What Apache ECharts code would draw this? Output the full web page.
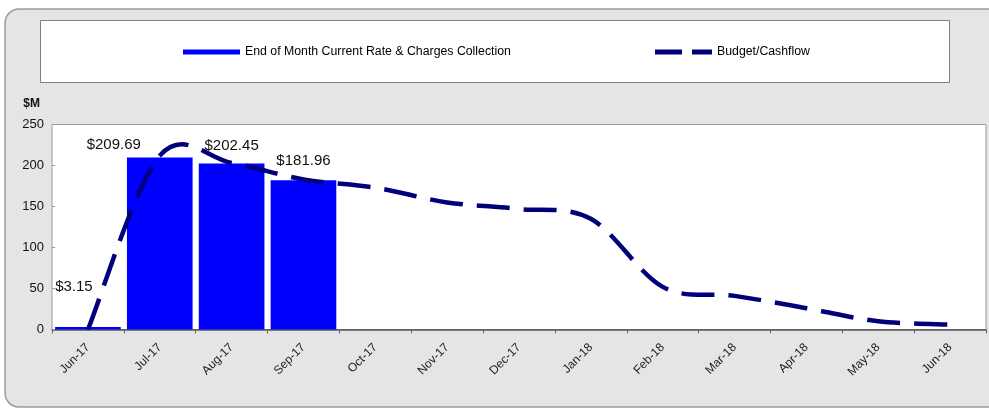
<!DOCTYPE html>
<html>
<head>
<meta charset="utf-8">
<script src="https://cdn.jsdelivr.net/npm/echarts@6/dist/echarts.min.js"></script>
<style>
  html, body { margin: 0; padding: 0; background: #ffffff; }
  #chart { width: 989px; height: 410px; }
</style>
</head>
<body>
<div id="chart"></div>
<script>
// Monthly categories, Jun-17 through Jun-18
const months = ['Jun-17', 'Jul-17', 'Aug-17', 'Sep-17', 'Oct-17', 'Nov-17', 'Dec-17',
                'Jan-18', 'Feb-18', 'Mar-18', 'Apr-18', 'May-18', 'Jun-18'];

// Actual end-of-month collections ($M), reported so far
const collections = [3.15, 209.69, 202.45, 181.96];

// Budget / cashflow profile ($M)
const budget = [0, 212, 203, 183, 173, 155, 147, 135, 52, 41, 26, 10, 6];

// Value-axis ticks
const yTicks = [0, 50, 100, 150, 200, 250];

const seriesNames = ['End of Month Current Rate & Charges Collection', 'Budget/Cashflow'];

// Hand-placed value labels, one per bar
const labelOffsets = [[-14, -28], [-46, 0], [0, -5], [0, -7]];

const font = '"Liberation Sans", Arial, sans-serif';
const budgetColor = '#00007a';

// Smooth curve through every budget point (Catmull-Rom converted to cubic Béziers),
// drawn as one path so the dash pattern runs continuously.
function renderBudget(params, api) {
  if (params.dataIndex !== 0) return null;
  const pts = budget.map((v, j) => api.coord([j, v]));
  const n = pts.length;
  let d = 'M' + pts[0][0] + ' ' + pts[0][1];
  for (let i = 0; i < n - 1; i++) {
    const p0 = pts[Math.max(i - 1, 0)];
    const p1 = pts[i];
    const p2 = pts[i + 1];
    const p3 = pts[Math.min(i + 2, n - 1)];
    const c1x = p1[0] + (p2[0] - p0[0]) / 6;
    const c1y = p1[1] + (p2[1] - p0[1]) / 6;
    const c2x = p2[0] - (p3[0] - p1[0]) / 6;
    const c2y = p2[1] - (p3[1] - p1[1]) / 6;
    d += ' C' + c1x + ' ' + c1y + ' ' + c2x + ' ' + c2y + ' ' + p2[0] + ' ' + p2[1];
  }
  return {
    type: 'path',
    shape: { pathData: d },
    style: {
      fill: null,
      stroke: budgetColor,
      lineWidth: 4.5,
      lineDash: [33, 14]
    }
  };
}

const chart = echarts.init(document.getElementById('chart'), null, { renderer: 'canvas' });

chart.setOption({
  animation: false,
  backgroundColor: '#ffffff',
  textStyle: { fontFamily: font },
  graphic: [
    {
      type: 'rect', z: -10, silent: true,
      shape: { x: 5, y: 9, width: 1010, height: 398, r: 14 },
      style: { fill: '#e5e5e5', stroke: '#9c9c9c', lineWidth: 1.5 }
    },
    {
      type: 'rect', z: -9, silent: true,
      shape: { x: 40.5, y: 20.5, width: 909, height: 62 },
      style: { fill: '#ffffff', stroke: '#808080', lineWidth: 1 }
    }
  ],
  legend: [
    {
      data: [seriesNames[0]],
      left: 178, top: 41,
      itemWidth: 57, itemHeight: 5,
      icon: 'rect',
      textStyle: { fontSize: 12.3, color: '#000', fontFamily: font }
    },
    {
      data: [{ name: seriesNames[1], icon: 'path://M0,0h27v5h-27z M37,0h20v5h-20z' }],
      left: 650, top: 41,
      itemWidth: 57, itemHeight: 5,
      textStyle: { fontSize: 12.3, color: '#000', fontFamily: font }
    }
  ],
  grid: {
    left: 52, right: 3, top: 124.5, bottom: 80.5,
    show: true,
    backgroundColor: '#ffffff',
    borderColor: '#9a9a9a',
    borderWidth: 1
  },
  xAxis: {
    type: 'category',
    data: months,
    boundaryGap: true,
    axisLine: { lineStyle: { color: '#555', width: 1.5 } },
    axisTick: { show: true, length: 4, lineStyle: { color: '#666' } },
    axisLabel: {
      rotate: 45, margin: 16, fontSize: 12, color: '#222',
      padding: [12, 0, 0, 0], interval: 0
    },
    splitLine: { show: false }
  },
  yAxis: {
    type: 'value',
    min: yTicks[0], max: yTicks[yTicks.length - 1], interval: 50,
    name: '$M',
    nameLocation: 'end',
    nameGap: 15,
    nameTextStyle: { fontWeight: 'bold', fontSize: 12, color: '#111', align: 'right', padding: [0, 12, 0, 0] },
    axisLine: { show: false },
    axisTick: { show: true, inside: true, length: 3, lineStyle: { color: '#999' } },
    axisLabel: { fontSize: 13, color: '#111', margin: 8 },
    splitLine: { show: false }
  },
  series: [
    {
      name: seriesNames[0],
      type: 'bar',
      barCategoryGap: '8.6%',
      itemStyle: { color: '#0000ff' },
      data: collections.map((v, i) => ({
        value: v,
        label: { offset: labelOffsets[i] }
      })),
      label: {
        show: true,
        position: 'top',
        distance: 5,
        fontSize: 15,
        color: '#111',
        formatter: p => '$' + Number(p.value).toFixed(2)
      },
      z: 2
    },
    {
      name: seriesNames[1],
      type: 'custom',
      coordinateSystem: 'cartesian2d',
      data: budget.map((v, i) => [i, v]),
      encode: { x: 0, y: 1 },
      itemStyle: { color: budgetColor },
      renderItem: renderBudget,
      z: 3
    }
  ]
});
</script>
</body>
</html>
